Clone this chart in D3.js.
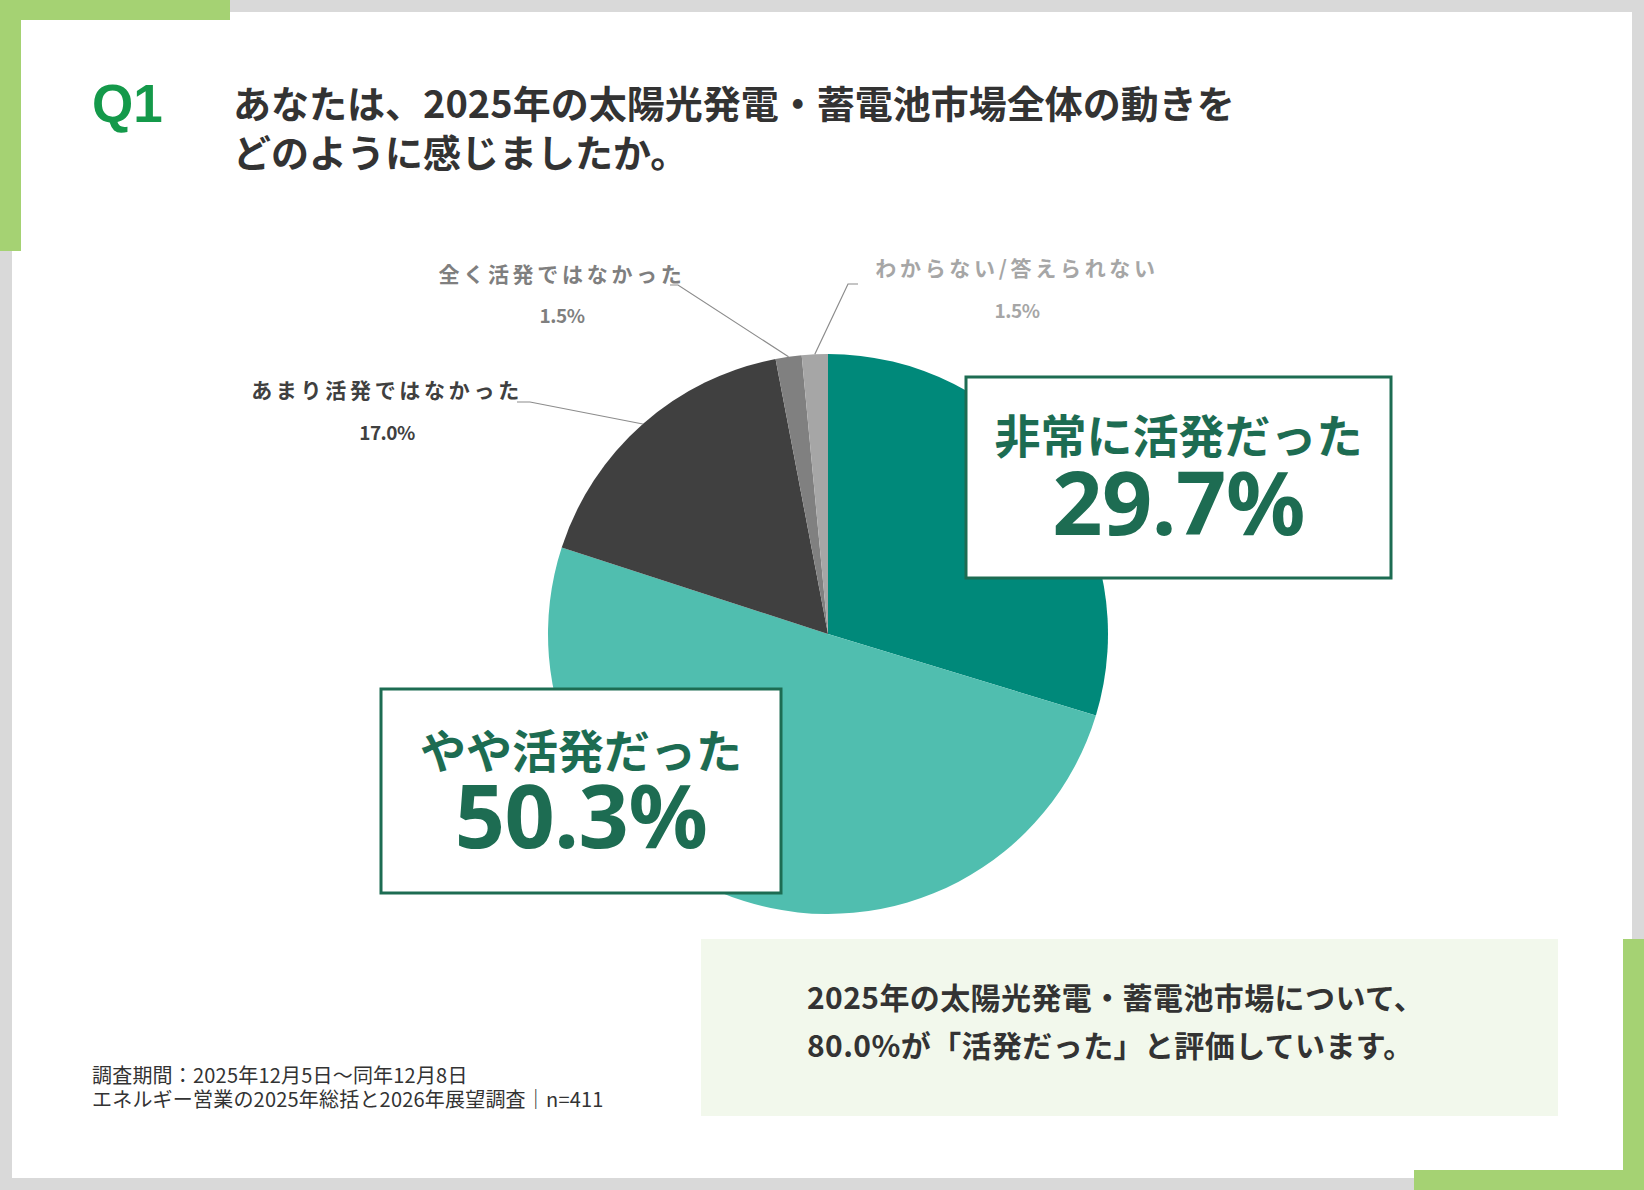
<!DOCTYPE html>
<html lang="ja">
<head>
<meta charset="utf-8">
<script src="https://cdn.jsdelivr.net/npm/d3@7"></script>
<style>
  html, body { margin: 0; padding: 0; background: #fff; }
  svg { display: block; }
  .jp { font-family: "Noto Sans CJK JP", "Noto Sans", sans-serif; }
</style>
</head>
<body>
<svg id="chart" width="1644" height="1190"></svg>
<script>
/* Dati del grafico */
const categories  = ["非常に活発だった", "やや活発だった", "あまり活発ではなかった", "全く活発ではなかった", "わからない/答えられない"];
const values      = [29.7, 50.3, 17.0, 1.5, 1.5];
const valueLabels = ["29.7%", "50.3%", "17.0%", "1.5%", "1.5%"];
const sliceColors = ["#00897a", "#50beaf", "#404040", "#808080", "#a6a6a6"];

const titleLines   = ["あなたは、2025年の太陽光発電・蓄電池市場全体の動きを", "どのように感じましたか。"];
const summaryLines = ["2025年の太陽光発電・蓄電池市場について、", "80.0%が「活発だった」と評価しています。"];
const noteLines    = ["調査期間：2025年12月5日～同年12月8日", "エネルギー営業の2025年総括と2026年展望調査｜n=411"];

const W = 1644, H = 1190;
const GREEN = "#a5d273";
const BOX_GREEN = "#1d6c52";

const svg = d3.select("#chart");

/* ── CORNICE ───────────────────────────────────── */
svg.append("rect").attr("width", W).attr("height", H).attr("fill", "#d9d9d9");
svg.append("rect").attr("x", 12).attr("y", 12).attr("width", W - 24).attr("height", H - 24).attr("fill", "#fff");
// accenti verdi
svg.append("rect").attr("x", 0).attr("y", 0).attr("width", 230).attr("height", 20).attr("fill", GREEN);
svg.append("rect").attr("x", 0).attr("y", 0).attr("width", 21).attr("height", 251).attr("fill", GREEN);
svg.append("rect").attr("x", W - 21).attr("y", 939).attr("width", 21).attr("height", H - 939).attr("fill", GREEN);
svg.append("rect").attr("x", 1414).attr("y", H - 20).attr("width", W - 1414).attr("height", 20).attr("fill", GREEN);

/* ── TITOLO ────────────────────────────────────── */
svg.append("text")
  .attr("x", 92).attr("y", 122)
  .attr("font-family", "Liberation Sans, Arial, sans-serif")
  .attr("font-weight", 700).attr("font-size", 53)
  .attr("fill", "#14994a")
  .text("Q1");

svg.append("g").attr("class", "jp")
  .selectAll("text").data(titleLines).join("text")
  .attr("x", 233).attr("y", (d, i) => 118 + i * 49)
  .attr("font-weight", 700).attr("font-size", 38)
  .attr("fill", "#333")
  .text(d => d);

/* ── TORTA ─────────────────────────────────────── */
const cx = 828, cy = 634, R = 280;

const pie = d3.pie().sort(null).value(d => d)(values);
const arc = d3.arc().innerRadius(0).outerRadius(R);
const edge = d3.arc().innerRadius(R).outerRadius(R);

const gPie = svg.append("g").attr("transform", `translate(${cx},${cy})`);
gPie.selectAll("path").data(pie).join("path")
  .attr("d", arc)
  .attr("fill", (d, i) => sliceColors[i]);

/* Etichette esterne con linee guida (fette piccole) */
const outer = [
  { i: 2, x: 387, y: 398, py: 440, color: "#404040", elbow: [530, 402], end: [517, 402] },
  { i: 3, x: 562, y: 282, py: 323, color: "#7f7f7f", elbow: [678, 285], end: [670, 285] },
  { i: 4, x: 1017, y: 276, py: 318, color: "#a6a6a6", elbow: [848, 284], end: [858, 284] }
];

outer.forEach(o => {
  const [sx, sy] = edge.centroid(pie[o.i]);
  svg.append("polyline")
    .attr("points", [[cx + sx, cy + sy], o.elbow, o.end].map(p => p.join(",")).join(" "))
    .attr("fill", "none").attr("stroke", "#8c8c8c").attr("stroke-width", 1.2);

  svg.append("text").attr("class", "jp")
    .attr("x", o.x).attr("y", o.y)
    .attr("text-anchor", "middle")
    .attr("font-size", 21).attr("font-weight", 700)
    .attr("letter-spacing", 3.7)
    .attr("fill", o.color)
    .text(categories[o.i]);

  svg.append("text").attr("class", "jp")
    .attr("x", o.x).attr("y", o.py)
    .attr("text-anchor", "middle")
    .attr("font-size", 19).attr("font-weight", 700)
    .attr("letter-spacing", -0.5)
    .attr("fill", o.color)
    .text(valueLabels[o.i]);
});

/* Riquadri per le fette grandi */
const boxes = [
  { i: 0, x: 966, y: 377, w: 425, h: 201, ty: 453, ny: 535 },
  { i: 1, x: 381, y: 689, w: 400, h: 204, ty: 768, ny: 848 }
];

boxes.forEach(b => {
  const g = svg.append("g");
  g.append("rect")
    .attr("x", b.x).attr("y", b.y).attr("width", b.w).attr("height", b.h)
    .attr("fill", "#fff").attr("stroke", BOX_GREEN).attr("stroke-width", 3);
  g.append("text").attr("class", "jp")
    .attr("x", b.x + b.w / 2).attr("y", b.ty)
    .attr("text-anchor", "middle")
    .attr("font-size", 46).attr("font-weight", 700)
    .attr("fill", BOX_GREEN)
    .text(categories[b.i]);
  g.append("text")
    .attr("x", b.x + b.w / 2).attr("y", b.ny)
    .attr("text-anchor", "middle")
    .attr("font-family", "Noto Sans, Open Sans, sans-serif")
    .attr("font-size", 88).attr("font-weight", 700)
    .attr("letter-spacing", -0.5)
    .attr("fill", BOX_GREEN)
    .text(valueLabels[b.i]);
});

/* ── RIEPILOGO ─────────────────────────────────── */
svg.append("rect")
  .attr("x", 701).attr("y", 939).attr("width", 857).attr("height", 177)
  .attr("fill", "#f2f8ec");

svg.append("g").attr("class", "jp")
  .selectAll("text").data(summaryLines).join("text")
  .attr("x", 807).attr("y", (d, i) => 1009 + i * 48)
  .attr("font-size", 30).attr("font-weight", 700)
  .attr("letter-spacing", 0.4)
  .attr("fill", "#333")
  .text(d => d);

/* ── NOTE ──────────────────────────────────────── */
svg.append("g").attr("class", "jp")
  .selectAll("text").data(noteLines).join("text")
  .attr("x", 92).attr("y", (d, i) => 1083 + i * 24)
  .attr("font-size", 20).attr("letter-spacing", 0.2)
  .attr("fill", "#333")
  .text(d => d);
</script>
</body>
</html>
